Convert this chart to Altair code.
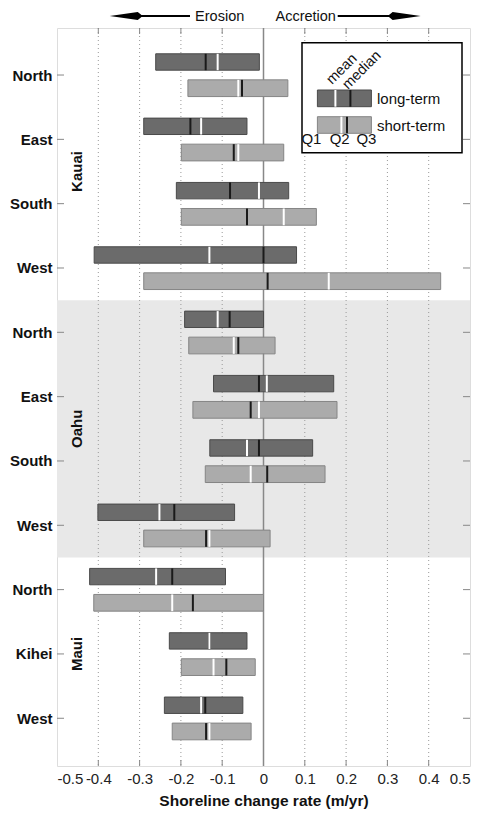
import altair as alt
import pandas as pd

# ---------------- data ----------------
categories = ["North", "East", "South", "West", "North", "East", "South", "West",
              "North", "Kihei", "West"]
islands = ["Kauai", "Oahu", "Maui"]
island_center = [1.5, 5.5, 9.0]
oahu_band = [3.5, 7.5]

long_q1 = [-0.261, -0.290, -0.211, -0.410, -0.191, -0.121, -0.130, -0.401, -0.421, -0.228, -0.240]
long_q3 = [-0.010, -0.040, 0.061, 0.080, 0.000, 0.170, 0.119, -0.070, -0.092, -0.040, -0.050]
long_median = [-0.111, -0.151, -0.011, -0.131, -0.111, 0.008, -0.040, -0.252, -0.260, -0.131, -0.151]
long_mean = [-0.140, -0.177, -0.081, 0.000, -0.082, -0.011, -0.011, -0.216, -0.221, -0.131, -0.141]

short_q1 = [-0.183, -0.199, -0.199, -0.290, -0.181, -0.171, -0.141, -0.290, -0.411, -0.199, -0.221]
short_q3 = [0.059, 0.049, 0.128, 0.429, 0.028, 0.178, 0.149, 0.016, 0.000, -0.020, -0.030]
short_median = [-0.061, -0.061, 0.049, 0.158, -0.072, -0.011, -0.031, -0.131, -0.221, -0.121, -0.131]
short_mean = [-0.052, -0.072, -0.040, 0.010, -0.061, -0.031, 0.009, -0.139, -0.171, -0.090, -0.139]

x_ticks = [-0.5, -0.4, -0.3, -0.2, -0.1, 0.0, 0.1, 0.2, 0.3, 0.4, 0.5]
grid_vals = [-0.4, -0.3, -0.2, -0.1, 0.1, 0.2, 0.3, 0.4]

# ---------------- tables ----------------
rows = []
for i in range(len(categories)):
    rows.append(dict(idx=i, term="long-term", q1=long_q1[i], q3=long_q3[i],
                     median=long_median[i], mean=long_mean[i], y0=i - 0.33, y1=i - 0.075))
    rows.append(dict(idx=i, term="short-term", q1=short_q1[i], q3=short_q3[i],
                     median=short_median[i], mean=short_mean[i], y0=i + 0.075, y1=i + 0.335))
bars_df = pd.DataFrame(rows)
isl_df = pd.DataFrame({"island": islands, "pos": island_center})
band_df = pd.DataFrame({"y0": [oahu_band[0]], "y1": [oahu_band[1]]})
grid_df = pd.DataFrame({"v": grid_vals})
zero_df = pd.DataFrame({"v": [0.0]})
xt_df = pd.DataFrame({"v": x_ticks[1:-1]})
yt_df = pd.DataFrame({"v": list(range(len(categories)))})
one = pd.DataFrame({"a": [0]})

W, H = 413, 738
FONT = "Liberation Sans"

xs = alt.Scale(domain=[-0.5, 0.5], nice=False, zero=False)
ys = alt.Scale(domain=[-0.731, 10.742], reverse=True, nice=False, zero=False)

label_arr = "[" + ",".join("'%s'" % c for c in categories) + "]"
X_AXIS = alt.Axis(values=x_ticks, labelExpr="toString(round(datum.value*10)/10)",
                  ticks=False, domain=False, grid=False, labelFont=FONT, labelFontSize=15,
                  labelColor="#222", labelPadding=5, title="Shoreline change rate (m/yr)",
                  titleFont=FONT, titleFontSize=15.5, titleFontWeight="bold",
                  titleColor="#111", titlePadding=7)
Y_AXIS = alt.Axis(values=list(range(len(categories))), labelExpr=label_arr + "[datum.value]",
                  ticks=False, domain=False, grid=False, labelFont=FONT, labelFontSize=15,
                  labelFontWeight="bold", labelColor="#111", labelPadding=5, title=None)


def X(f):
    return alt.X(f, type="quantitative", scale=xs, axis=X_AXIS)


def Y(f):
    return alt.Y(f, type="quantitative", scale=ys, axis=Y_AXIS)


band = alt.Chart(band_df).mark_rect(color="#e8e8e8").encode(
    x=alt.value(0), x2=alt.value(W), y=Y("y0"), y2="y1")

grid = alt.Chart(grid_df).mark_rule(color="#999", strokeDash=[1, 3], strokeWidth=1).encode(
    x=X("v"), y=alt.value(0), y2=alt.value(H))

zero = alt.Chart(zero_df).mark_rule(color="#888", strokeWidth=1.5).encode(
    x=X("v"), y=alt.value(0), y2=alt.value(H))

xt_top = alt.Chart(xt_df).mark_rule(color="#888").encode(
    x=X("v"), y=alt.value(0), y2=alt.value(6))
xt_bot = alt.Chart(xt_df).mark_rule(color="#888").encode(
    x=X("v"), y=alt.value(H), y2=alt.value(H - 6))
yt_left = alt.Chart(yt_df).mark_rule(color="#888").encode(
    y=Y("v"), x=alt.value(0), x2=alt.value(7))
yt_right = alt.Chart(yt_df).mark_rule(color="#888").encode(
    y=Y("v"), x=alt.value(W), x2=alt.value(W - 7))

isl = alt.Chart(isl_df).mark_text(angle=270, font=FONT, fontSize=15, fontWeight="bold",
                                  color="#111", align="center", baseline="middle").encode(
    x=alt.value(20), y=Y("pos"), text="island:N")

term_dom = ["long-term", "short-term"]
bars = alt.Chart(bars_df).mark_rect(strokeWidth=1).encode(
    x=X("q1"), x2="q3", y=Y("y0"), y2="y1",
    fill=alt.Fill("term:N", scale=alt.Scale(domain=term_dom, range=["#6b6b6b", "#ababab"]), legend=None),
    stroke=alt.Stroke("term:N", scale=alt.Scale(domain=term_dom, range=["#4a4a4a", "#858585"]), legend=None))
means = alt.Chart(bars_df).mark_rule(color="#1a1a1a", strokeWidth=2).encode(
    x=X("mean"), y=Y("y0"), y2="y1")
medians = alt.Chart(bars_df).mark_rule(color="white", strokeWidth=2).encode(
    x=X("median"), y=Y("y0"), y2="y1")

# ---------------- legend (drawn) ----------------
base1 = alt.Chart(one)
leg_box = base1.mark_rect(fill="white", stroke="black", strokeWidth=1.5).encode(
    x=alt.value(245), x2=alt.value(405), y=alt.value(14.7), y2=alt.value(124.7))
leg_long = base1.mark_rect(fill="#6b6b6b", stroke="#4a4a4a").encode(
    x=alt.value(260.4), x2=alt.value(314.4), y=alt.value(62), y2=alt.value(78.7))
leg_short = base1.mark_rect(fill="#ababab", stroke="#858585").encode(
    x=alt.value(260.4), x2=alt.value(314.4), y=alt.value(88.7), y2=alt.value(105.3))
leg_l_med = base1.mark_rule(color="white", strokeWidth=2).encode(
    x=alt.value(278.4), y=alt.value(62), y2=alt.value(78.7))
leg_l_mean = base1.mark_rule(color="#1a1a1a", strokeWidth=2).encode(
    x=alt.value(293.4), y=alt.value(62), y2=alt.value(78.7))
leg_s_med = base1.mark_rule(color="white", strokeWidth=2).encode(
    x=alt.value(284.4), y=alt.value(88.7), y2=alt.value(105.3))
leg_s_mean = base1.mark_rule(color="#1a1a1a", strokeWidth=2).encode(
    x=alt.value(290), y=alt.value(88.7), y2=alt.value(105.3))


def txt(s, x, y, align="left", angle=0, baseline="middle", size=15):
    return base1.mark_text(text=s, font=FONT, fontSize=size, color="#111", align=align,
                           baseline=baseline, angle=angle).encode(x=alt.value(x), y=alt.value(y))


leg_texts = [
    txt("long-term", 320, 71),
    txt("short-term", 320, 97.5),
    txt("Q1", 254.4, 111, align="center"),
    txt("Q2", 282.7, 111, align="center"),
    txt("Q3", 309.4, 111, align="center"),
    txt("mean", 275, 57, angle=315, baseline="alphabetic", size=14.5),
    txt("median", 291, 62, angle=315, baseline="alphabetic", size=14.5),
]

# ---------------- erosion / accretion arrows ----------------
arrow_y = -12
head_left = base1.mark_point(shape="M -1 0 L 0.7 -0.24 L 1 0 L 0.7 0.24 Z", filled=True,
                             size=1089, color="black", opacity=1).encode(
    x=alt.value(69.2), y=alt.value(arrow_y))
head_right = base1.mark_point(shape="M 1 0 L -0.7 -0.24 L -1 0 L -0.7 0.24 Z", filled=True,
                              size=1089, color="black", opacity=1).encode(
    x=alt.value(347.2), y=alt.value(arrow_y))
shaft_left = base1.mark_rule(color="black", strokeWidth=2).encode(
    x=alt.value(80), x2=alt.value(133), y=alt.value(arrow_y))
shaft_right = base1.mark_rule(color="black", strokeWidth=2).encode(
    x=alt.value(280.7), x2=alt.value(337), y=alt.value(arrow_y))
top_texts = [txt("Erosion", 162.7, -7, align="center", baseline="alphabetic", size=14.5),
             txt("Accretion", 248.7, -7, align="center", baseline="alphabetic", size=14.5)]

chart = alt.layer(
    band, grid, zero, xt_top, xt_bot, yt_left, yt_right, isl, bars, means, medians,
    leg_box, leg_long, leg_short, leg_l_med, leg_l_mean, leg_s_med, leg_s_mean,
    *leg_texts, head_left, head_right, shaft_left, shaft_right, *top_texts
).properties(
    width=W, height=H,
    autosize=alt.AutoSizeParams(type="none"),
    padding={"left": 49, "top": 20, "right": 4, "bottom": 50},
).configure_view(stroke="#888", strokeWidth=1.2).configure(background="white")

chart.save("out.html", embed_options={"renderer": "svg", "actions": False})
